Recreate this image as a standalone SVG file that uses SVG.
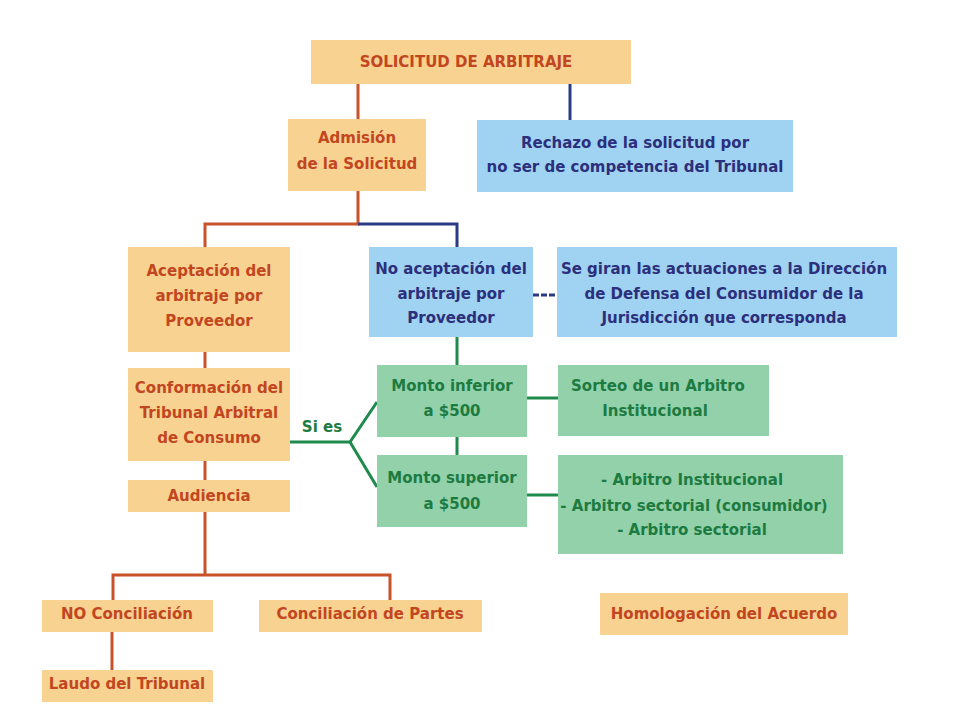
<svg xmlns="http://www.w3.org/2000/svg" width="960" height="720" viewBox="0 0 960 720">
<style>
.o{fill:#F8D291}
.b{fill:#A0D2F1}
.g{fill:#92D1AA}
text{font-family:"DejaVu Sans","Liberation Sans",Arial,sans-serif;font-weight:bold;font-size:15px;text-anchor:middle}
.to{fill:#C2461F}
.tb{fill:#2B2F7C}
.tg{fill:#1D7B41}
.lo{stroke:#C8532B;stroke-width:3;fill:none}
.lb{stroke:#2B3A85;stroke-width:3;fill:none}
.lg{stroke:#1E8A4B;stroke-width:3;fill:none}
</style>
<rect width="960" height="720" fill="#ffffff"/>
<g id="connectors">
<path class="lo" d="M358,84V119"/>
<path class="lb" d="M570,84V120"/>
<path class="lo" d="M358,191V224H205V247"/>
<path class="lb" d="M358,224H457V247"/>
<path class="lb" d="M533,295H557" stroke-dasharray="6,2"/>
<path class="lo" d="M205,352V368"/>
<path class="lo" d="M205,461V480"/>
<path class="lg" d="M457,337V365"/>
<path class="lg" d="M457,437V455"/>
<path class="lg" d="M290,442H350L377,402M350,442L377,487"/>
<path class="lg" d="M527,398H558"/>
<path class="lg" d="M527,495H558"/>
<path class="lo" d="M205,512V575M113,600V575H390V600"/>
<path class="lo" d="M112,632V670"/>
<text class="tg" x="322" y="432">Si es</text>
</g>
<g id="n-solicitud"><rect class="o" x="311" y="40" width="320" height="44"/><text class="to" x="466" y="67">SOLICITUD DE ARBITRAJE</text></g>
<g id="n-admision"><rect class="o" x="288" y="119" width="138" height="72"/><text class="to" x="357" y="143">Admisión</text><text class="to" x="357" y="169">de la Solicitud</text></g>
<g id="n-rechazo"><rect class="b" x="477" y="120" width="316" height="72"/><text class="tb" x="635" y="148">Rechazo de la solicitud por</text><text class="tb" x="635" y="172">no ser de competencia del Tribunal</text></g>
<g id="n-aceptacion"><rect class="o" x="128" y="247" width="162" height="105"/><text class="to" x="209" y="276">Aceptación del</text><text class="to" x="209" y="301">arbitraje por</text><text class="to" x="209" y="326">Proveedor</text></g>
<g id="n-noaceptacion"><rect class="b" x="369" y="247" width="164" height="90"/><text class="tb" x="451" y="274">No aceptación del</text><text class="tb" x="451" y="299">arbitraje por</text><text class="tb" x="451" y="323">Proveedor</text></g>
<g id="n-segiran"><rect class="b" x="557" y="247" width="340" height="90"/><text class="tb" x="724" y="274">Se giran las actuaciones a la Dirección</text><text class="tb" x="724" y="299">de Defensa del Consumidor de la</text><text class="tb" x="724" y="323">Jurisdicción que corresponda</text></g>
<g id="n-conformacion"><rect class="o" x="128" y="368" width="162" height="93"/><text class="to" x="209" y="393">Conformación del</text><text class="to" x="209" y="418">Tribunal Arbitral</text><text class="to" x="209" y="443">de Consumo</text></g>
<g id="n-audiencia"><rect class="o" x="128" y="480" width="162" height="32"/><text class="to" x="209" y="501">Audiencia</text></g>
<g id="n-inferior"><rect class="g" x="377" y="365" width="150" height="72"/><text class="tg" x="452" y="391">Monto inferior</text><text class="tg" x="452" y="416">a $500</text></g>
<g id="n-superior"><rect class="g" x="377" y="455" width="150" height="72"/><text class="tg" x="452" y="483">Monto superior</text><text class="tg" x="452" y="509">a $500</text></g>
<g id="n-sorteo"><rect class="g" x="558" y="365" width="211" height="71"/><text class="tg" x="658" y="391">Sorteo de un Arbitro</text><text class="tg" x="655" y="416">Institucional</text></g>
<g id="n-arbitros"><rect class="g" x="558" y="455" width="285" height="99"/><text class="tg" x="692" y="485">- Arbitro Institucional</text><text class="tg" x="694" y="511">- Arbitro sectorial (consumidor)</text><text class="tg" x="692" y="535">- Arbitro sectorial</text></g>
<g id="n-noconc"><rect class="o" x="42" y="600" width="171" height="32"/><text class="to" x="127" y="619">NO Conciliación</text></g>
<g id="n-conc"><rect class="o" x="259" y="600" width="223" height="32"/><text class="to" x="370" y="619">Conciliación de Partes</text></g>
<g id="n-laudo"><rect class="o" x="42" y="670" width="171" height="32"/><text class="to" x="127" y="689">Laudo del Tribunal</text></g>
<g id="n-homologacion"><rect class="o" x="600" y="593" width="248" height="42"/><text class="to" x="724" y="619">Homologación del Acuerdo</text></g>
</svg>
